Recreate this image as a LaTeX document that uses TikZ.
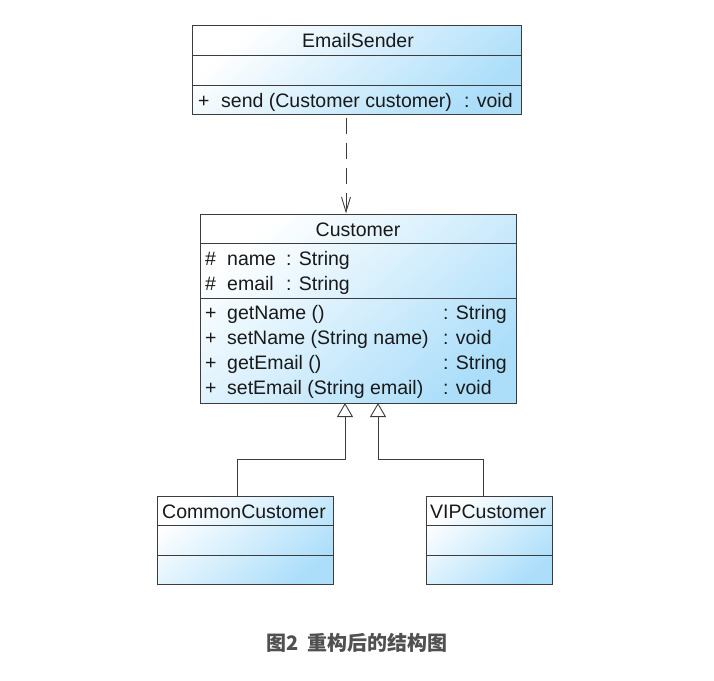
\documentclass[tikz,border=0pt]{standalone}
\usepackage{fontspec}
\setmainfont{Liberation Sans}
\newfontfamily\cjk{Noto Sans CJK SC}
\usetikzlibrary{arrows.meta}
\definecolor{bordc}{HTML}{3C3C3C}
\definecolor{boxblue}{RGB}{172,222,250}
\definecolor{capc}{HTML}{505050}
\begin{document}
\begin{tikzpicture}[x=1pt,y=-1pt,
  cbox/.style={draw=bordc, line width=1pt, top color=white, bottom color=boxblue, shading angle=40, inner sep=0pt, rectangle},
  div/.style={draw=bordc, line width=0.9pt},
  lbl/.style={inner sep=0pt, anchor=base west, font=\fontsize{19.5}{23}\selectfont, text=black!90},
  ctr/.style={inner sep=0pt, anchor=base, font=\fontsize{19.5}{23}\selectfont, text=black!90},
  conn/.style={draw=bordc, line width=0.9pt},
  inh/.style={conn, -{Triangle[open, length=14pt, width=16pt, line width=0.9pt]}},
  dep/.style={conn, dash pattern=on 16pt off 9pt, -{Straight Barb[length=15pt, width=9pt, line width=0.9pt]}}
]
\useasboundingbox (0,0) rectangle (714,680);

% EmailSender
\node[cbox, minimum width=329pt, minimum height=89pt] (es) at (356.5,69.5) {};
\draw[div] (es.west |- 0,55) -- (es.east |- 0,55);
\draw[div] (es.west |- 0,85) -- (es.east |- 0,85);
\node[ctr] (esn) at (358,47) {EmailSender};
\node[lbl] (esp) at (198,107) {+};
\node[lbl] (esm) at (221,107) {send (Customer customer)};
\node[lbl] (esr) at (464,107) {: void};

% Customer
\node[cbox, minimum width=316pt, minimum height=189pt] (cu) at (358,308.5) {};
\draw[div] (cu.west |- 0,243) -- (cu.east |- 0,243);
\draw[div] (cu.west |- 0,298) -- (cu.east |- 0,298);
\node[ctr] (cun) at (358,236) {Customer};
\node[lbl] (a1h) at (205,265) {\#};
\node[lbl] (a1n) at (227,265) {name};
\node[lbl] (a1t) at (286,265) {: String};
\node[lbl] (a2h) at (205,290) {\#};
\node[lbl] (a2n) at (227,290) {email};
\node[lbl] (a2t) at (286,290) {: String};
\node[lbl] (m1p) at (205,319) {+};
\node[lbl] (m1n) at (227,319) {getName ()};
\node[lbl] (m1t) at (443,319) {: String};
\node[lbl] (m2p) at (205,344) {+};
\node[lbl] (m2n) at (227,344) {setName (String name)};
\node[lbl] (m2t) at (443,344) {: void};
\node[lbl] (m3p) at (205,369) {+};
\node[lbl] (m3n) at (227,369) {getEmail ()};
\node[lbl] (m3t) at (443,369) {: String};
\node[lbl] (m4p) at (205,394) {+};
\node[lbl] (m4n) at (227,394) {setEmail (String email)};
\node[lbl] (m4t) at (443,394) {: void};

% CommonCustomer
\node[cbox, minimum width=176pt, minimum height=88pt] (cc) at (245,540) {};
\draw[div] (cc.west |- 0,525) -- (cc.east |- 0,525);
\draw[div] (cc.west |- 0,555) -- (cc.east |- 0,555);
\node[lbl] (ccn) at (162,518) {CommonCustomer};

% VIPCustomer
\node[cbox, minimum width=126pt, minimum height=88pt] (vip) at (489,540) {};
\draw[div] (vip.west |- 0,525) -- (vip.east |- 0,525);
\draw[div] (vip.west |- 0,555) -- (vip.east |- 0,555);
\node[lbl] (vipn) at (430,518) {VIPCustomer};

% connectors
\coordinate (g1) at (345,403);
\coordinate (g2) at (378,403);
\draw[inh] ([xshift=-8pt]cc.north) -- ++(0,-36) -| (g1);
\draw[inh] ([xshift=-6pt]vip.north) -- ++(0,-36) -| (g2);
\draw[dep] ([xshift=-10.5pt, yshift=-3pt]es.south) -- ([xshift=-12pt]cu.north);

% caption
\node[inner sep=0pt, anchor=base, font=\cjk\bfseries\fontsize{20}{24}\selectfont, text=capc] (cap) at (357,650) {图2\hspace{0.45em}重构后的结构图};
\end{tikzpicture}
\end{document}
